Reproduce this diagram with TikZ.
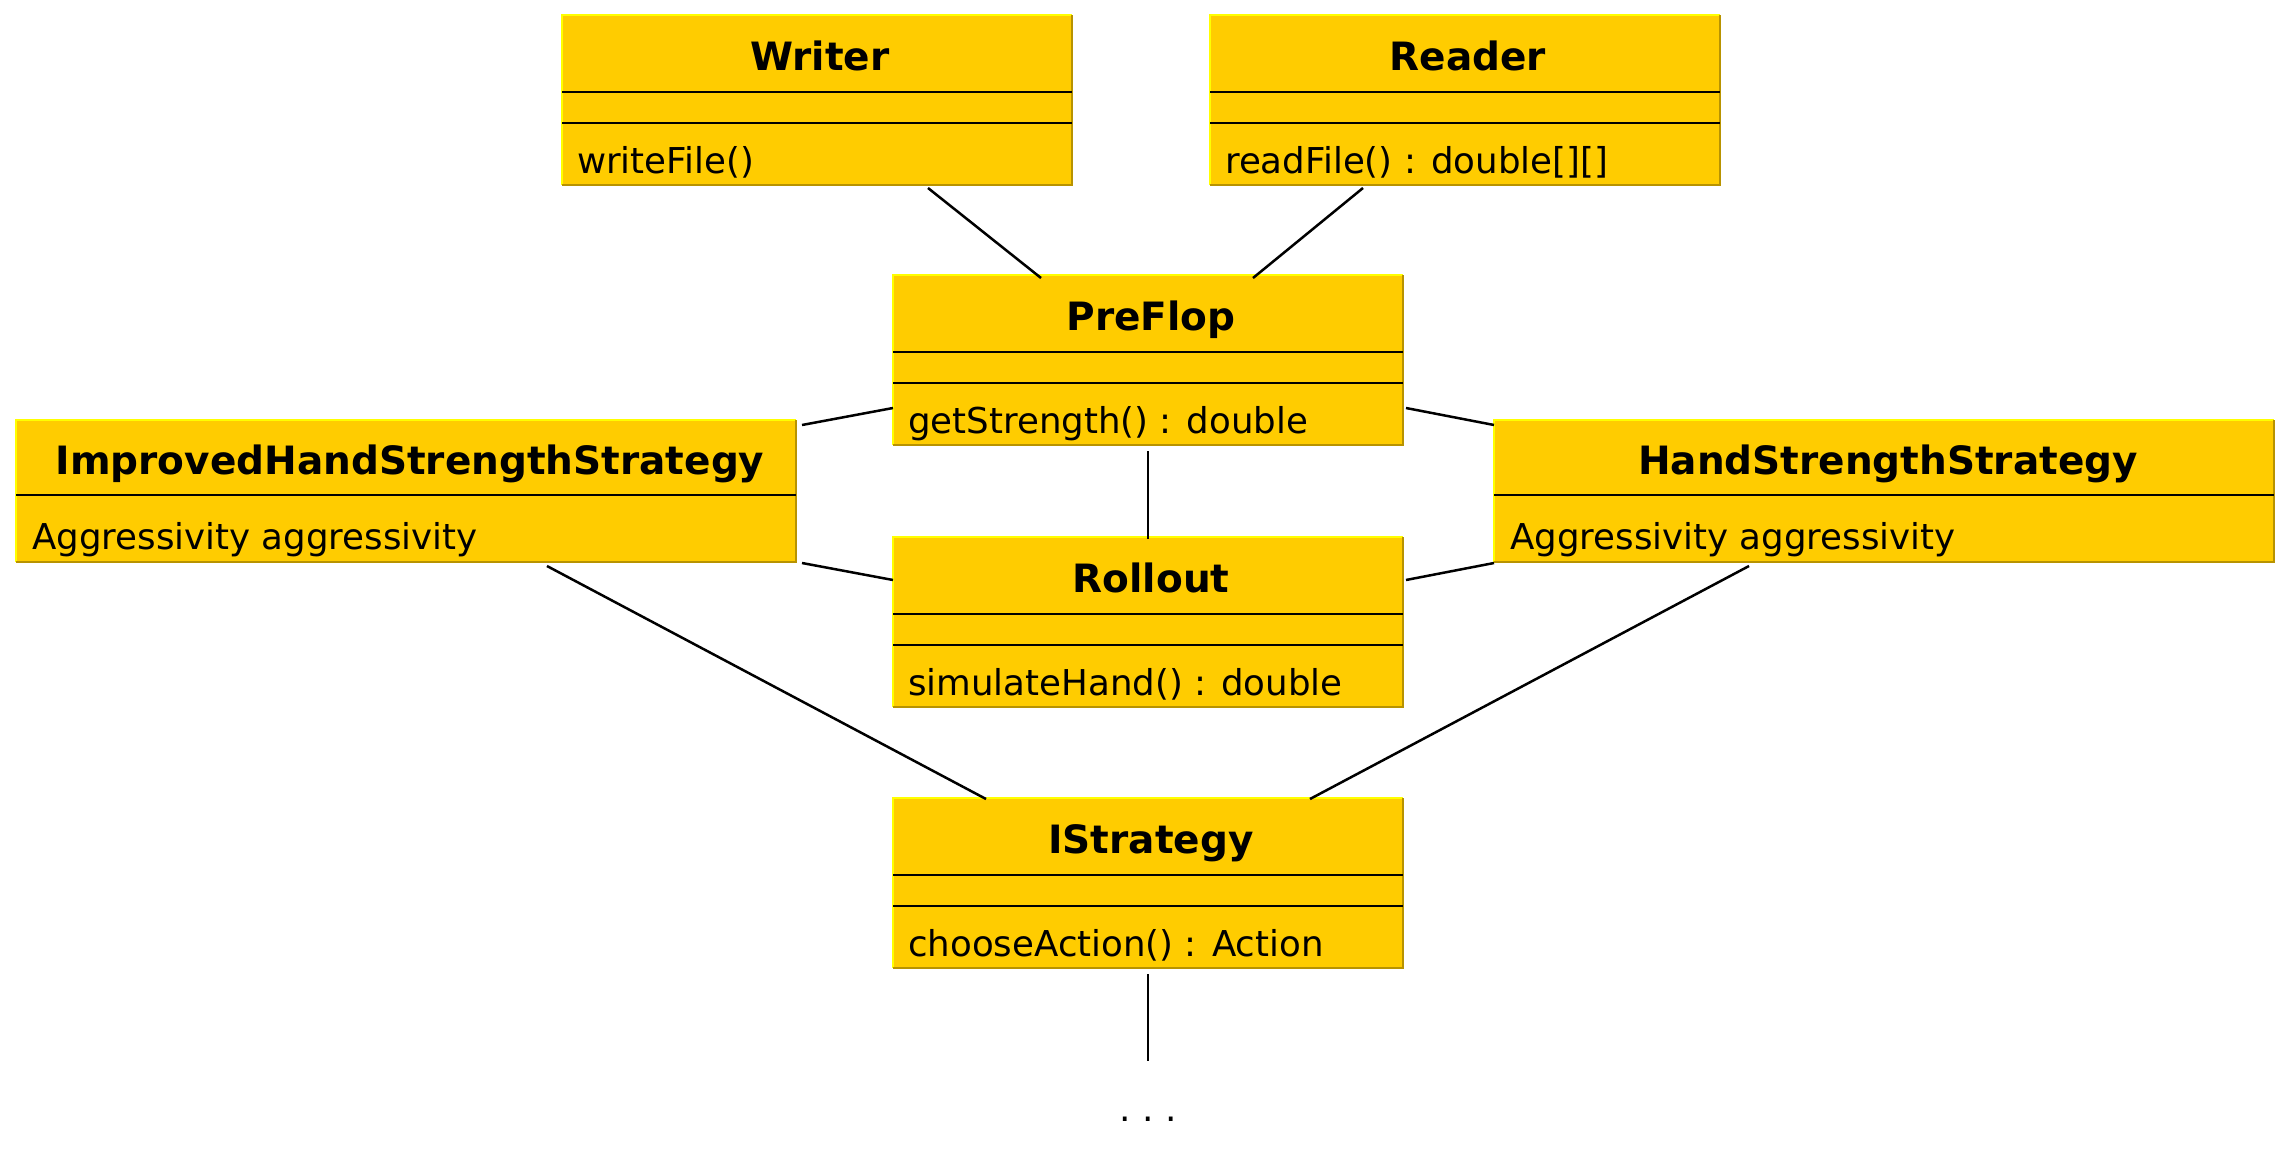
\documentclass[tikz,border=0pt]{standalone}
\usepackage{fontspec}
\setmainfont{DejaVu Sans}
\usetikzlibrary{calc}
\definecolor{boxfill}{HTML}{FFCC00}
\definecolor{boxlight}{HTML}{FFFF00}
\definecolor{boxdark}{HTML}{B89300}
\tikzset{
  umlbox/.style={rectangle, fill=boxfill, draw=none, inner sep=0pt, outer sep=0pt, anchor=north west},
  titletext/.style={font=\fontsize{39}{47}\selectfont\bfseries, anchor=base, inner sep=0pt},
  bodytext/.style={font=\fontsize{35.6}{43}\selectfont, anchor=base west, inner sep=0pt},
  divider/.style={line width=2.5pt, black},
  conn/.style={line width=2.5pt, black},
  litedge/.style={line width=2.5pt, boxlight},
  darkedge/.style={line width=2.5pt, boxdark},
}
% three-compartment class box: #1 name, #2 x, #3 y, #4 title, #5 method
\newcommand{\umlthreebox}[5]{%
  \node[umlbox, minimum width=510pt, minimum height=170pt] (#1) at (#2,#3) {};
  \draw[litedge] (#1.south west) -- (#1.north west) -- (#1.north east);
  \draw[darkedge] (#1.north east) -- (#1.south east) -- (#1.south west);
  \draw[divider] ($(#1.north west)+(0,77)$) -- ($(#1.north east)+(0,77)$);
  \draw[divider] ($(#1.north west)+(0,108)$) -- ($(#1.north east)+(0,108)$);
  \node[titletext] (#1-title) at ($(#1.north)+(3,55)$) {#4};
  \node[bodytext] (#1-op) at ($(#1.north west)+(15,158)$) {#5};
}
% two-compartment class box: #1 name, #2 x, #3 y, #4 title, #5 attribute
\newcommand{\umltwobox}[5]{%
  \node[umlbox, minimum width=780pt, minimum height=142pt] (#1) at (#2,#3) {};
  \draw[litedge] (#1.south west) -- (#1.north west) -- (#1.north east);
  \draw[darkedge] (#1.north east) -- (#1.south east) -- (#1.south west);
  \draw[divider] ($(#1.north west)+(0,75)$) -- ($(#1.north east)+(0,75)$);
  \node[titletext] (#1-title) at ($(#1.north)+(4,54)$) {#4};
  \node[bodytext] (#1-attr) at ($(#1.north west)+(16,129)$) {#5};
}
\begin{document}
\begin{tikzpicture}[x=1pt, y=-1pt]
  \useasboundingbox (0,0) rectangle (2295,1167);
  \fill[white] (0,0) rectangle (2295,1167);

  \umlthreebox{writer}{562}{15}{Writer}{writeFile()}
  \umlthreebox{reader}{1210}{15}{Reader}{readFile() : double[][]}
  \umlthreebox{preflop}{893}{275}{PreFlop}{getStrength() : double}
  \umlthreebox{rollout}{893}{537}{Rollout}{simulateHand() : double}
  \umlthreebox{istrategy}{893}{798}{IStrategy}{chooseAction() : Action}
  \umltwobox{improved}{16}{420}{ImprovedHandStrengthStrategy}{Aggressivity aggressivity}
  \umltwobox{hss}{1494}{420}{HandStrengthStrategy}{Aggressivity aggressivity}

  \coordinate (dotsend) at (1148,1061);
  \node[font=\fontsize{36}{43}\selectfont, anchor=base, inner sep=0pt] (dots) at (1148,1121) {.\kern11.5pt.\kern11.5pt.};

  \draw[conn] ($(writer.south west)+(366,3)$) -- ($(preflop.north west)+(148,3)$);
  \draw[conn] ($(reader.south west)+(153,3)$) -- ($(preflop.north west)+(360,3)$);
  \draw[conn] ($(improved.north east)+(6,5)$) -- ($(preflop.north west)+(0,133)$);
  \draw[conn] ($(preflop.north east)+(3,133)$) -- ($(hss.north west)+(0,5)$);
  \draw[conn] ($(preflop.south)+(0,6)$) -- ($(rollout.north)+(0,2)$);
  \draw[conn] ($(improved.south east)+(6,1)$) -- ($(rollout.north west)+(0,43)$);
  \draw[conn] ($(rollout.north east)+(3,43)$) -- ($(hss.south west)+(0,1)$);
  \draw[conn] ($(improved.south west)+(531,4)$) -- ($(istrategy.north west)+(93,1)$);
  \draw[conn] ($(hss.south west)+(255,4)$) -- ($(istrategy.north west)+(417,1)$);
  \draw[conn] ($(istrategy.south)+(0,6)$) -- (dotsend);
\end{tikzpicture}
\end{document}
